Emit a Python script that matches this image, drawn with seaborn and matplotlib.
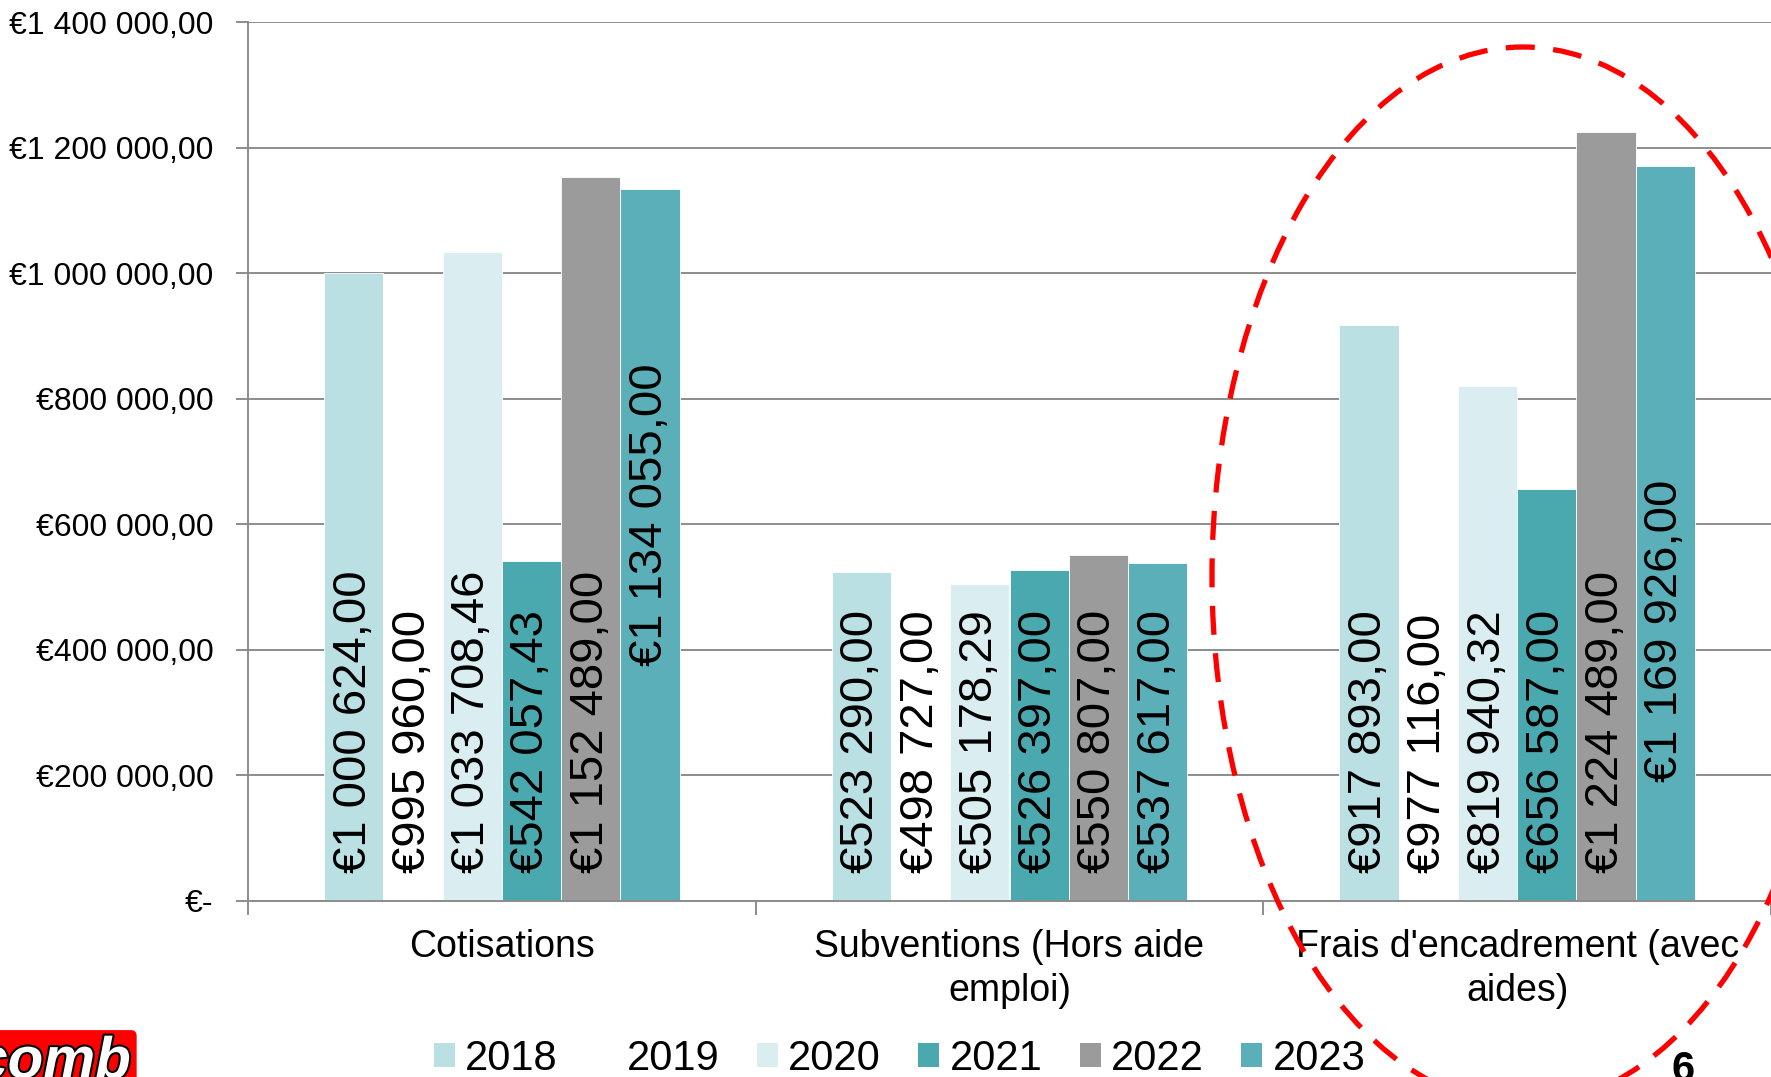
import matplotlib.pyplot as plt
import matplotlib.patheffects as pe
from matplotlib.patches import Patch, Ellipse
import seaborn as sns
import pandas as pd

categories = ["Cotisations", "Subventions (Hors aide\nemploi)", "Frais d'encadrement (avec\naides)"]
years = ["2018", "2019", "2020", "2021", "2022", "2023"]
v2018 = [1000624.00, 523290.00, 917893.00]
v2019 = [995960.00, 498727.00, 977116.00]
v2020 = [1033708.46, 505178.29, 819940.32]
v2021 = [542057.43, 526397.00, 656587.00]
v2022 = [1152489.00, 550807.00, 1224489.00]
v2023 = [1134055.00, 537617.00, 1169926.00]
y_ticks = [0, 200000, 400000, 600000, 800000, 1000000, 1200000, 1400000]

colors = ["#BAE0E3", "#FFFFFF", "#DAEDF0", "#4AA8AF", "#9B9B9B", "#5BAFB9"]


def fmt_eur(v):
    if v == 0:
        return "€-"
    s = f"{v:,.2f}".replace(",", " ").replace(".", ",")
    return "€" + s


rows = []
for year, vals in zip(years, [v2018, v2019, v2020, v2021, v2022, v2023]):
    for cat, v in zip(categories, vals):
        rows.append({"categorie": cat, "annee": year, "montant": v})
df = pd.DataFrame(rows)

sns.set_style("white")
plt.rcParams["font.family"] = ["Liberation Sans", "DejaVu Sans"]
plt.rcParams["text.color"] = "black"
plt.rcParams["ytick.labelcolor"] = "black"

fig = plt.figure(figsize=(17.71, 10.77), dpi=100)
ax = fig.add_axes([248 / 1771, 1 - 901 / 1077, 1 - 248 / 1771, (901 - 22) / 1077])

sns.barplot(data=df, x="categorie", y="montant", hue="annee", hue_order=years,
            order=categories, palette=colors, width=0.7, gap=0, ax=ax,
            edgecolor="white", linewidth=0.6, legend=False, errorbar=None,
            saturation=1)

# label positions (bottom of text, in data units); a few were moved up by hand
label_base = {(0, 5): 374000, (2, 5): 189000}
for hi, cont in enumerate(ax.containers):
    for ci, bar in enumerate(cont):
        v = bar.get_height()
        y0 = label_base.get((ci, hi), 45000)
        ax.text(bar.get_x() + bar.get_width() / 2, y0, fmt_eur(v), rotation=90,
                ha="center", va="bottom", fontsize=34, color="black")

ax.set_ylim(0, 1400000)
ax.set_xlim(-0.5, 2.5)
ax.set_yticks(y_ticks)
ax.set_yticklabels([fmt_eur(t) for t in y_ticks], fontsize=23, color="black")
ax.yaxis.grid(True, color="#8C8C8C", linewidth=1.4)
ax.set_axisbelow(True)
ax.set_xlabel("")
ax.set_ylabel("")

# category ticks at group boundaries
ax.set_xticks([-0.5, 0.5, 1.5, 2.5])
ax.set_xticklabels([])
ax.tick_params(axis="x", length=10, width=1.4, color="#8C8C8C", bottom=True)
ax.tick_params(axis="y", length=9, width=1.4, color="#8C8C8C", left=True, pad=16)
for i, cat in enumerate(categories):
    ax.text(i, -0.032, cat, transform=ax.get_xaxis_transform(), ha="center",
            va="top", fontsize=27, linespacing=1.28, color="black")

for side in ["top", "right"]:
    ax.spines[side].set_visible(False)
for side in ["left", "bottom"]:
    ax.spines[side].set_color("#8C8C8C")
    ax.spines[side].set_linewidth(1.4)

handles = [Patch(facecolor=c, edgecolor="none") for c in colors]
fig.legend(handles, years, loc="center", bbox_to_anchor=(0.508, 0.017), ncol=6,
           frameon=False, fontsize=30, handlelength=0.5, handleheight=0.5,
           handletextpad=0.25, columnspacing=0.9, borderaxespad=0,
           labelcolor="black")

# red dashed ellipse around the last group
ell = Ellipse((1523 / 1771, 1 - 576 / 1077), 622 / 1771, 1058 / 1077,
              transform=fig.transFigure, fill=False, edgecolor="#FF0000",
              linewidth=3.8, linestyle=(0, (5.5, 3.5)), clip_on=False)
fig.add_artist(ell)

# logo and page number
fig.text(-0.014, -0.012, "comb", fontsize=42, fontweight="bold", style="italic",
         color="white", ha="left", va="bottom",
         path_effects=[pe.withStroke(linewidth=3, foreground="black")],
         bbox=dict(boxstyle="round,pad=0.1", facecolor="#FF0000", edgecolor="none"))
fig.text(1683 / 1771, -0.012, "6", fontsize=30, fontweight="bold", ha="center",
         va="bottom", color="black")

fig.savefig("out.png", dpi=100)
